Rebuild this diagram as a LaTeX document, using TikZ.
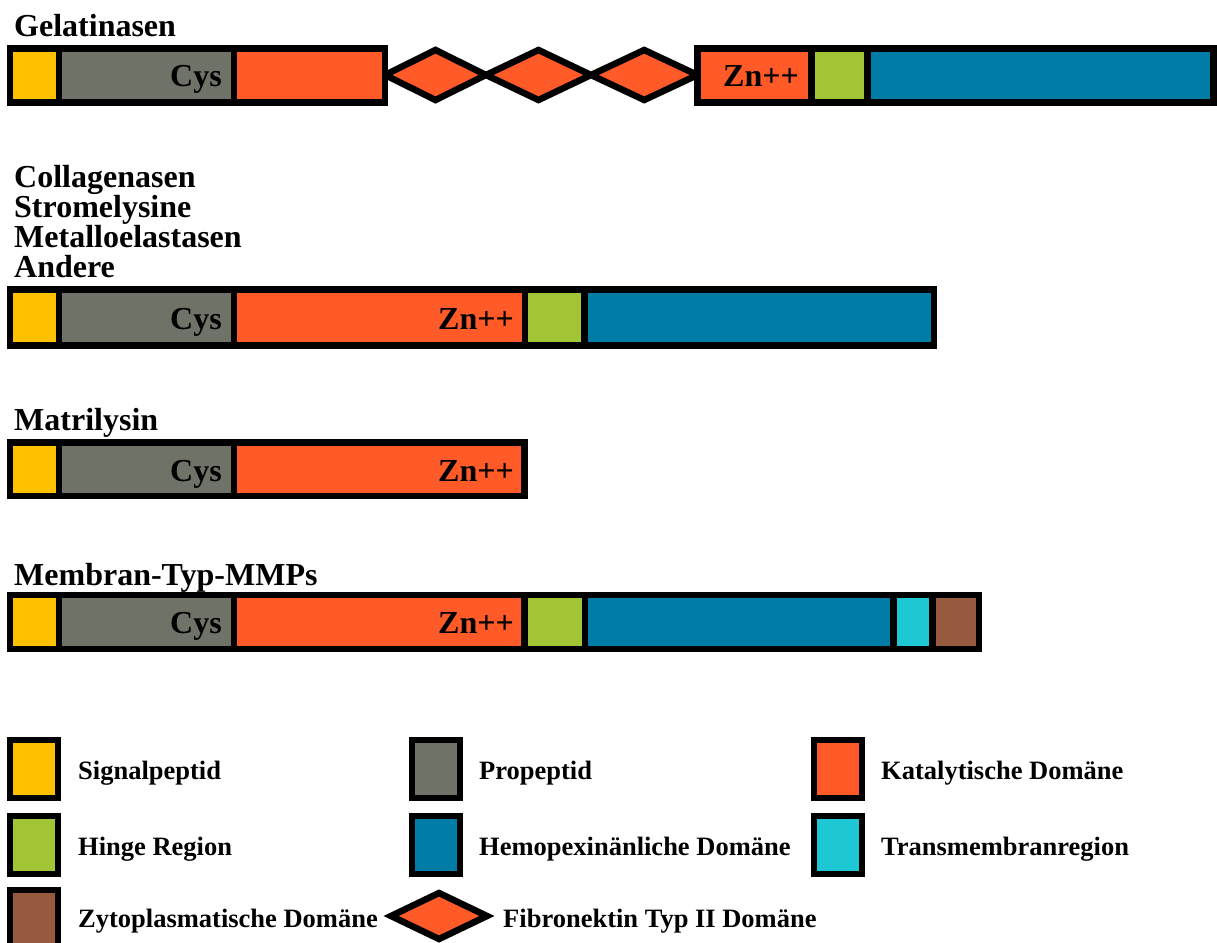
\documentclass[tikz,border=0pt]{standalone}
\usepackage{fontspec}
\setmainfont{Liberation Serif}

\definecolor{sigcol}{HTML}{FFC000}
\definecolor{procol}{HTML}{6F7267}
\definecolor{catcol}{HTML}{FF5A28}
\definecolor{hingecol}{HTML}{A1C534}
\definecolor{hemocol}{HTML}{007DA6}
\definecolor{tmcol}{HTML}{1DC7D3}
\definecolor{cytocol}{HTML}{985A3E}

% \domain{name}{left}{right}{top}{bottom}{colour}
\newcommand\domain[6]{%
  \node[dom, fill=#6, minimum width={#3-#2}, minimum height={#5-#4}]
    (#1) at ({(#2+#3)/2},{(#4+#5)/2}) {};}

% \fndiamond{left}{right}{top}{bottom}
\newcommand\fndiamond[4]{%
  \draw[fn] (#1,{(#3+#4)/2}) -- ({(#1+#2)/2},#3) -- (#2,{(#3+#4)/2})
    -- ({(#1+#2)/2},#4) -- cycle;}

\begin{document}
\begin{tikzpicture}[x=1pt,y=-1pt,
  dom/.style={draw=black, line width=6.5pt, rectangle, inner sep=0pt, outer sep=0pt},
  fn/.style={draw=black, fill=catcol, line width=6.5pt, line join=miter},
  title/.style={anchor=base west, inner sep=0pt, font=\fontsize{32}{32}\selectfont\bfseries},
  tag/.style={anchor=base east, inner sep=0pt, font=\fontsize{32}{32}\selectfont\bfseries},
  legtext/.style={anchor=base west, inner sep=0pt, font=\fontsize{26.5}{26.5}\selectfont\bfseries}]
\useasboundingbox[fill=white] (0,0) rectangle (1217,942);

% ---- Gelatinasen ----
\node[title] (tGel) at (14,37) {Gelatinasen};
\fndiamond{385}{486}{50}{100}
\fndiamond{486}{591}{50}{100}
\fndiamond{591}{697.5}{50}{100}
\domain{g1}{10}{59}{48.5}{102.5}{sigcol}
\domain{g2}{59}{234}{48.5}{102.5}{procol}
\domain{g3}{234}{385}{48.5}{102.5}{catcol}
\domain{g4}{697.5}{811.5}{48.5}{102.5}{catcol}
\domain{g5}{811.5}{867.5}{48.5}{102.5}{hingecol}
\domain{g6}{867.5}{1213.5}{48.5}{102.5}{hemocol}
\node[tag] (gCys) at (222,86) {Cys};
\node[tag] (gZn) at (799,86) {Zn++};

% ---- Collagenasen / Stromelysine / Metalloelastasen / Andere ----
\node[title] (tCol) at (14,187) {Collagenasen};
\node[title] (tStr) at (14,217) {Stromelysine};
\node[title] (tMet) at (14,247) {Metalloelastasen};
\node[title] (tAnd) at (14,277) {Andere};
\domain{c1}{10}{59}{289.5}{345.5}{sigcol}
\domain{c2}{59}{234}{289.5}{345.5}{procol}
\domain{c3}{234}{525}{289.5}{345.5}{catcol}
\domain{c4}{525}{584.5}{289.5}{345.5}{hingecol}
\domain{c5}{584.5}{934}{289.5}{345.5}{hemocol}
\node[tag] (cCys) at (222,329) {Cys};
\node[tag] (cZn) at (514,329) {Zn++};

% ---- Matrilysin ----
\node[title] (tMat) at (14,430) {Matrilysin};
\domain{m1}{10}{59}{442.5}{496}{sigcol}
\domain{m2}{59}{234}{442.5}{496}{procol}
\domain{m3}{234}{524.5}{442.5}{496}{catcol}
\node[tag] (mCys) at (222,481) {Cys};
\node[tag] (mZn) at (514,481) {Zn++};

% ---- Membran-Typ-MMPs ----
\node[title] (tMem) at (14,585) {Membran-Typ-MMPs};
\domain{t1}{10}{59}{595}{649}{sigcol}
\domain{t2}{59}{234}{595}{649}{procol}
\domain{t3}{234}{524.5}{595}{649}{catcol}
\domain{t4}{524.5}{585}{595}{649}{hingecol}
\domain{t5}{585}{893.5}{595}{649}{hemocol}
\domain{t6}{893.5}{932.5}{595}{649}{tmcol}
\domain{t7}{932.5}{979}{595}{649}{cytocol}
\node[tag] (tCys) at (222,633) {Cys};
\node[tag] (tZn) at (514,633) {Zn++};

% ---- Legend ----
\domain{lSig}{10}{58}{740}{798}{sigcol}
\node[legtext] (xSig) at (78,779) {Signalpeptid};
\domain{lPro}{412}{460}{740}{798}{procol}
\node[legtext] (xPro) at (479,779) {Propeptid};
\domain{lCat}{814}{862}{740}{798}{catcol}
\node[legtext] (xCat) at (881,779) {Katalytische Domäne};

\domain{lHin}{10}{58}{816}{874}{hingecol}
\node[legtext] (xHin) at (78,855) {Hinge Region};
\domain{lHem}{412}{460}{816}{874}{hemocol}
\node[legtext] (xHem) at (479,855) {Hemopexinänliche Domäne};
\domain{lTm}{814}{862}{816}{874}{tmcol}
\node[legtext] (xTm) at (881,855) {Transmembranregion};

\domain{lCyt}{10}{58}{890}{948}{cytocol}
\node[legtext] (xCyt) at (78,927) {Zytoplasmatische Domäne};
\fndiamond{391}{487}{893}{939}
\node[legtext] (xFn) at (503,927) {Fibronektin Typ II Domäne};
\end{tikzpicture}
\end{document}
